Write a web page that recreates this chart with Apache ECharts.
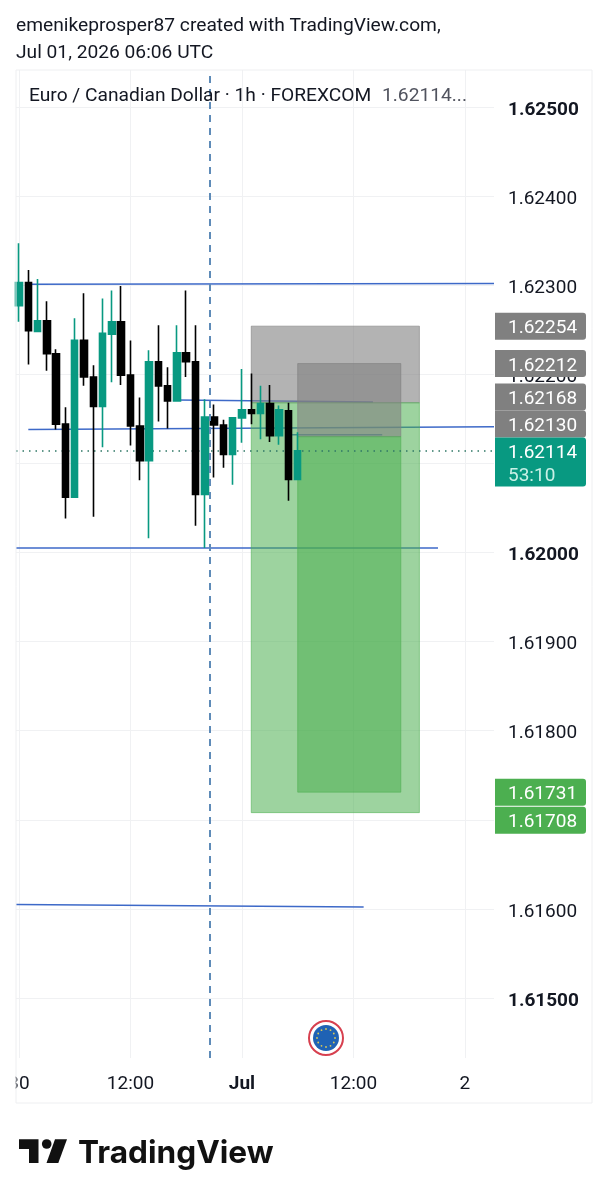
<!DOCTYPE html>
<html>
<head>
<meta charset="utf-8">
<style>html,body{margin:0;padding:0;background:#fff}#chart{width:609px;height:1200px}</style>
<script src="https://cdn.jsdelivr.net/npm/echarts@6/dist/echarts.min.js"></script>
</head>
<body>
<div id="chart"></div>
<script>
// EUR/CAD hourly candles, hours counted from the first bar
const candleOpen  = [1.62277,1.62303,1.62248,1.62260,1.62223,1.62144,1.62062,1.62238,1.62197,1.62164,1.62245,1.62259,1.62199,1.62142,1.62103,1.62214,1.62187,1.62170,1.62224,1.62214,1.62065,1.62152,1.62143,1.62110,1.62151,1.62160,1.62156,1.62167,1.62131,1.62159,1.62082];
const candleClose = [1.62303,1.62249,1.62260,1.62223,1.62144,1.62062,1.62238,1.62197,1.62164,1.62246,1.62259,1.62199,1.62142,1.62103,1.62214,1.62187,1.62170,1.62224,1.62214,1.62065,1.62152,1.62143,1.62110,1.62151,1.62160,1.62156,1.62167,1.62131,1.62160,1.62082,1.62114];
const candleLow   = [1.62259,1.62211,1.62248,1.62204,1.62138,1.62038,1.62062,1.62187,1.62040,1.62118,1.62191,1.62188,1.62120,1.62081,1.62016,1.62147,1.62139,1.62170,1.62197,1.62030,1.62005,1.62084,1.62095,1.62076,1.62123,1.62144,1.62127,1.62124,1.62121,1.62058,1.62082];
const candleHigh  = [1.62347,1.62317,1.62307,1.62282,1.62228,1.62163,1.62263,1.62291,1.62210,1.62285,1.62294,1.62299,1.62238,1.62174,1.62227,1.62255,1.62208,1.62255,1.62294,1.62255,1.62172,1.62166,1.62149,1.62152,1.62206,1.62201,1.62187,1.62188,1.62165,1.62168,1.62135];

const priceTicks = [1.615,1.616,1.617,1.618,1.619,1.62,1.621,1.622,1.623,1.624,1.625];
const boldPrices = [1.615,1.62,1.625];
const timeTicks = [0,12,24,36,48];
const timeLabels = ['30','12:00','Jul','12:00','2'];

// Hand-drawn trend lines: [hour, price] end points
const trendA = [[1,1.62301],[51.13,1.62302]];
const trendB = [[1,1.62138],[51.13,1.62141]];
const trendC = [[-0.32,1.62005],[45.1,1.62005]];
const trendD = [[-0.32,1.61605],[37.1,1.61602]];
const trendE = [[17,1.62171],[38.1,1.62169]];
const trendF = [[29.4,1.62132],[39.1,1.62132]];

// Short positions: [startHour, endHour, stop, entry, target]
const outerPosition = [25,43.1,1.62254,1.62168,1.61708];
const innerPosition = [30,41.1,1.62212,1.62130,1.61731];

const lastPrice = 1.62114;
const cursorHour = 20.56;
const countdown = '53:10';

// Price-scale tags; the grey stack climbs from the last-price tag, the green one descends
const tagPrices = [1.62254,1.62212,1.62168,1.62130,1.62114,1.61731,1.61708];
const tagColors = ['#808080','#808080','#808080','#808080','#089981','#4caf50','#4caf50'];

const titleLines = ['emenikeprosper87 created with TradingView.com,','Jul 01, 2026 06:06 UTC'];
const legendText = 'Euro / Canadian Dollar · 1h · FOREXCOM';
const legendValue = '1.62114...';

const FONT = 'Roboto';
const INK = '#131722';
const LOGO = '#111111';
const GRID = '#f0f1f3';
const TREND = '#3d69c8';
const TAG_H = 27;
const PRICE_MIN = 1.614326;
const PRICE_MAX = 1.625415;

const chart = echarts.init(document.getElementById('chart'), null, {renderer:'canvas'});

function trendSeries(points){
  return {type:'line',data:points,showSymbol:false,silent:true,z:1,clip:true,
    lineStyle:{color:TREND,width:1.5},animation:false};
}

function tagTops(api){
  const mid = tagPrices.map(p=>api.coord([0,p])[1]);
  const tops = mid.map(m=>m-TAG_H/2);
  for(let i=3;i>=0;i--){
    tops[i] = Math.min(tops[i],tops[i+1]-TAG_H);
  }
  tops[6] = Math.max(tops[6],tops[5]+TAG_H+1);
  return tops;
}

function positionBand(x0,x1,a,b,fill,api){
  const p0 = api.coord([x0,a]);
  const p1 = api.coord([x1,b]);
  return {type:'rect',shape:{x:p0[0],y:p0[1],width:p1[0]-p0[0],height:p1[1]-p0[1]},
    style:{fill:fill,stroke:fill,lineWidth:1}};
}

const GREY_FILL = 'rgba(128,128,128,0.6)';
const GREEN_FILL = 'rgba(76,175,80,0.55)';

function renderPosition(params,api){
  const pos = params.dataIndex===0 ? outerPosition : innerPosition;
  return {type:'group',children:[
    positionBand(pos[0],pos[1],pos[2],pos[3],GREY_FILL,api),
    positionBand(pos[0],pos[1],pos[3],pos[4],GREEN_FILL,api)
  ]};
}

function renderTag(params,api){
  const i = params.dataIndex;
  const tops = tagTops(api);
  const isLast = tagPrices[i]===lastPrice;
  const height = isLast ? 49 : TAG_H;
  const children = [
    {type:'rect',shape:{x:495,y:tops[i],width:91,height:height,r:[0,3,3,0]},style:{fill:tagColors[i]}},
    {type:'text',x:508,y:tops[i]+TAG_H/2+2.2,style:{text:tagPrices[i].toFixed(5),fill:'#fff',font:'19px '+FONT,textVerticalAlign:'middle'}}
  ];
  if(isLast){
    children.push({type:'text',x:508,y:tops[i]+39,style:{text:countdown,fill:'#c9f0e6',font:'19px '+FONT,textVerticalAlign:'middle'}});
  }
  return {type:'group',children:children};
}

function euroBadge(cx,cy){
  const stars = [];
  for(let k=0;k<12;k++){
    const a = k*Math.PI/6;
    stars.push({type:'circle',shape:{cx:cx+9*Math.cos(a),cy:cy+9*Math.sin(a),r:0.9},style:{fill:'#d8c95a'},z:12});
  }
  return [
    {type:'circle',shape:{cx:cx,cy:cy,r:17},style:{fill:'#fff',stroke:'#d7404f',lineWidth:2},z:11},
    {type:'circle',shape:{cx:cx,cy:cy,r:13},style:{fill:'#1f62b4'},z:11}
  ].concat(stars);
}

const graphics = [
  {type:'rect',shape:{x:0,y:1066,width:15.5,height:34},style:{fill:'#fff'},z:20},
  {type:'rect',shape:{x:16,y:70,width:576,height:1033},style:{fill:'none',stroke:'#eeeff1',lineWidth:1},z:21},
  {type:'text',x:16,y:26,style:{text:titleLines[0],fill:INK,font:'19.2px '+FONT,textVerticalAlign:'middle'},z:20},
  {type:'text',x:16,y:53,style:{text:titleLines[1],fill:INK,font:'19.2px '+FONT,textVerticalAlign:'middle'},z:20},
  {type:'text',x:29,y:96.5,style:{text:legendText,fill:INK,font:'19.2px '+FONT,textVerticalAlign:'middle'},z:20},
  {type:'text',x:382,y:96.5,style:{text:legendValue,fill:'#50535e',font:'19.2px '+FONT,textVerticalAlign:'middle'},z:20},
  // TradingView wordmark
  {type:'polygon',shape:{points:[[19,1139.3],[38.5,1139.3],[38.5,1163],[29,1163],[29,1149],[19,1149]]},style:{fill:LOGO},z:20},
  {type:'circle',shape:{cx:46.7,cy:1144,r:4.8},style:{fill:LOGO},z:20},
  {type:'polygon',shape:{points:[[55,1139.3],[67,1139.3],[58.3,1163],[46.5,1163]]},style:{fill:LOGO},z:20},
  {type:'text',x:78,y:1153.5,style:{text:'TradingView',fill:LOGO,font:'700 31.6px Inter',textVerticalAlign:'middle'},z:20}
].concat(euroBadge(326,1038));

chart.setOption({
  animation:false,
  backgroundColor:'#fff',
  grid:{left:16,right:115,top:70,bottom:142,containLabel:false},
  xAxis:{type:'value',min:-0.323,max:51.13,
    axisLine:{show:false},
    axisTick:{show:false,customValues:timeTicks},
    splitLine:{show:true,lineStyle:{color:GRID,width:1}},
    axisLabel:{customValues:timeTicks,margin:17,fontFamily:FONT,fontSize:19,color:INK,
      hideOverlap:false,showMinLabel:true,showMaxLabel:true,
      formatter:function(v){
        const t = timeLabels[timeTicks.indexOf(v)];
        return t==='Jul' ? '{b|'+t+'}' : t;
      },
      rich:{b:{fontWeight:'bold',fontFamily:FONT,fontSize:19,color:INK}}}
  },
  yAxis:{type:'value',position:'right',min:PRICE_MIN,max:PRICE_MAX,scale:true,
    axisLine:{show:false},
    axisTick:{show:false,customValues:priceTicks},
    splitLine:{show:true,lineStyle:{color:GRID,width:1}},
    axisLabel:{customValues:priceTicks,margin:14,align:'left',padding:[6,0,0,0],fontFamily:FONT,fontSize:19,color:INK,
      formatter:function(v){
        const t = v.toFixed(5);
        return boldPrices.some(b=>Math.abs(b-v)<1e-7) ? '{b|'+t+'}' : t;
      },
      rich:{b:{fontWeight:'bold',fontFamily:FONT,fontSize:19,color:INK}}}
  },
  series:[
    trendSeries(trendA),trendSeries(trendB),trendSeries(trendC),
    trendSeries(trendD),trendSeries(trendE),trendSeries(trendF),
    {type:'custom',silent:true,z:2,clip:true,data:[[0],[1]],renderItem:renderPosition},
    {type:'line',silent:true,z:3,showSymbol:false,
      data:[[-0.323,lastPrice],[51.13,lastPrice]],
      lineStyle:{color:'#2f7766',width:1.5,type:[1.5,5]}},
    {type:'candlestick',silent:true,z:4,barWidth:7,
      data:candleOpen.map((o,i)=>[i,o,candleClose[i],candleLow[i],candleHigh[i]]),
      encode:{x:0,y:[1,2,3,4]},
      itemStyle:{color:'#089981',color0:'#000',borderColor:'#089981',borderColor0:'#000',borderWidth:1.6}},
    {type:'line',silent:true,z:5,showSymbol:false,
      data:[[cursorHour,PRICE_MIN],[cursorHour,PRICE_MAX]],
      lineStyle:{color:'#5e8bb8',width:2,type:[7,6]}},
    {type:'custom',silent:true,z:6,clip:false,data:tagPrices.map((p,i)=>[i]),renderItem:renderTag}
  ],
  graphic:graphics
});
</script>
</body>
</html>
